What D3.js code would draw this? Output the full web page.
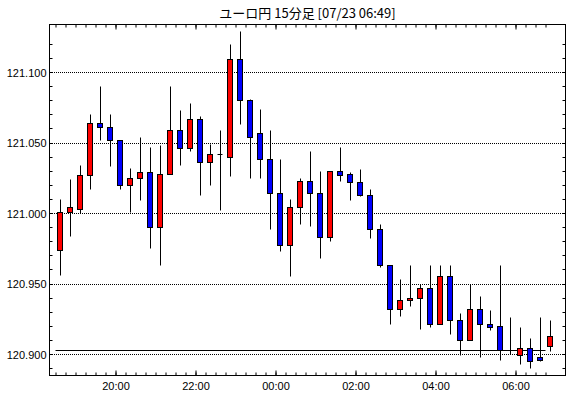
<!DOCTYPE html>
<html lang="ja">
<head>
<meta charset="utf-8">
<title>ユーロ円 15分足</title>
<script src="https://cdnjs.cloudflare.com/ajax/libs/d3/7.8.5/d3.min.js"></script>
<style>
  body { margin: 0; background: #fff; }
  svg text { fill: #000; }
</style>
</head>
<body>
<script>
// 15-minute candles, EUR/JPY
const times = [
  "07/22 18:30", "07/22 18:45", "07/22 19:00", "07/22 19:15", "07/22 19:30", "07/22 19:45",
  "07/22 20:00", "07/22 20:15", "07/22 20:30", "07/22 20:45", "07/22 21:00", "07/22 21:15",
  "07/22 21:30", "07/22 21:45", "07/22 22:00", "07/22 22:15", "07/22 22:30", "07/22 22:45",
  "07/22 23:00", "07/22 23:15", "07/22 23:30", "07/22 23:45",
  "07/23 00:00", "07/23 00:15", "07/23 00:30", "07/23 00:45", "07/23 01:00", "07/23 01:15",
  "07/23 01:30", "07/23 01:45", "07/23 02:00", "07/23 02:15", "07/23 02:30", "07/23 02:45",
  "07/23 03:00", "07/23 03:15", "07/23 03:30", "07/23 03:45", "07/23 04:00", "07/23 04:15",
  "07/23 04:30", "07/23 04:45", "07/23 05:00", "07/23 05:15", "07/23 05:30", "07/23 05:45",
  "07/23 06:00", "07/23 06:15", "07/23 06:30", "07/23 06:45"
];
const openPx = [
  120.974, 121.001, 121.003, 121.027, 121.064, 121.061, 121.052, 121.020, 121.025, 121.029,
  120.990, 121.028, 121.059, 121.046, 121.067, 121.036, 121.042, 121.040, 121.109, 121.080,
  121.057, 121.038, 121.014, 120.977, 121.004, 121.023, 121.014, 120.983, 121.030, 121.028,
  121.022, 121.013, 120.989, 120.963, 120.932, 120.938, 120.940, 120.947, 120.921, 120.955,
  120.924, 120.910, 120.932, 120.921, 120.920, 120.903, 120.899, 120.904, 120.898, 120.906
];
const highPx = [
  121.010, 121.024, 121.034, 121.070, 121.090, 121.070, 121.052, 121.032, 121.054, 121.047,
  121.048, 121.090, 121.073, 121.078, 121.069, 121.049, 121.059, 121.120, 121.129, 121.081,
  121.074, 121.059, 121.038, 121.010, 121.025, 121.044, 121.030, 121.030, 121.047, 121.029,
  121.031, 121.017, 120.992, 120.963, 120.953, 120.963, 120.950, 120.963, 120.963, 120.963,
  120.929, 120.950, 120.941, 120.931, 120.963, 120.926, 120.919, 120.911, 120.926, 120.924
];
const lowPx = [
  120.956, 120.984, 121.000, 121.017, 121.052, 121.033, 121.017, 121.001, 121.009, 120.975,
  120.963, 121.028, 121.034, 121.044, 121.013, 121.020, 121.002, 121.026, 121.063, 121.025,
  121.025, 120.989, 120.973, 120.955, 120.992, 120.991, 120.968, 120.980, 121.023, 121.009,
  121.012, 120.982, 120.962, 120.921, 120.927, 120.934, 120.918, 120.919, 120.921, 120.914,
  120.899, 120.910, 120.898, 120.917, 120.896, 120.900, 120.893, 120.890, 120.895, 120.902
];
const closePx = [
  121.001, 121.004, 121.027, 121.064, 121.061, 121.052, 121.020, 121.025, 121.029, 120.990,
  121.028, 121.059, 121.046, 121.067, 121.036, 121.042, 121.042, 121.109, 121.080, 121.054,
  121.038, 121.014, 120.977, 121.004, 121.023, 121.014, 120.983, 121.030, 121.027, 121.022,
  121.013, 120.989, 120.963, 120.932, 120.938, 120.940, 120.947, 120.921, 120.955, 120.924,
  120.910, 120.932, 120.921, 120.919, 120.903, 120.903, 120.904, 120.895, 120.896, 120.913
];
const refPrice = 120.903;
const xTickLabels = ["07/22 20:00", "07/22 22:00", "07/23 00:00", "07/23 02:00", "07/23 04:00", "07/23 06:00"];
const yTickLabels = [120.900, 120.950, 121.000, 121.050, 121.100];
const title = "ユーロ円 15分足 [07/23 06:49]";

const width = 570, height = 398;
const plotL = 49.5, plotR = 565.5, plotT = 24.5, plotB = 375.5;

const parse = d3.timeParse("%m/%d %H:%M");
const dates = times.map(parse);
const data = dates.map((d, i) => ({ t: d, o: openPx[i], h: highPx[i], l: lowPx[i], c: closePx[i] }));

const svg = d3.select("body").append("svg")
  .attr("width", width)
  .attr("height", height)
  .style("display", "block");

const x = d3.scaleTime()
  .domain([dates[0], d3.timeMinute.offset(dates[dates.length - 1], 15)])
  .range([55.5, 555.5]);
const y = d3.scaleLinear()
  .domain([120.9, 121.1])
  .range([354.5, 72.5]);

const minorY = d3.range(12089, 12113).map(v => v / 100);
const majorX = xTickLabels.map(parse);
const fmtY = d3.format(".3f");
const snap = v => Math.round(v - 0.5) + 0.5;

// title
svg.append("text")
  .attr("x", (plotL + plotR) / 2)
  .attr("y", 18)
  .attr("text-anchor", "middle")
  .style("font-family", "'Noto Sans CJK JP', sans-serif")
  .style("font-size", "13px")
  .text(title);

// dotted grid
svg.append("g").selectAll("line")
  .data(yTickLabels)
  .join("line")
  .attr("x1", plotL + 0.5).attr("x2", plotR - 0.5)
  .attr("y1", d => snap(y(d))).attr("y2", d => snap(y(d)))
  .attr("stroke", "#000")
  .attr("stroke-dasharray", "1,1")
  .attr("shape-rendering", "crispEdges");

// reference price line
svg.append("line")
  .attr("x1", x(dates[0])).attr("x2", x(dates[dates.length - 1]))
  .attr("y1", snap(y(refPrice))).attr("y2", snap(y(refPrice)))
  .attr("stroke", "#000");

// candles
const candles = svg.append("g").selectAll("g")
  .data(data)
  .join("g");

candles.append("line")
  .attr("x1", d => x(d.t) + 5).attr("x2", d => x(d.t) + 5)
  .attr("y1", d => snap(y(d.h))).attr("y2", d => snap(y(d.l)))
  .attr("stroke", "#000");

candles.filter(d => d.o !== d.c).append("rect")
  .attr("x", d => x(d.t) + 2)
  .attr("width", 5)
  .attr("y", d => snap(y(Math.max(d.o, d.c))))
  .attr("height", d => snap(y(Math.min(d.o, d.c))) - snap(y(Math.max(d.o, d.c))))
  .attr("fill", d => d.c > d.o ? "#ff0000" : "#0000ff")
  .attr("stroke", "#000");

candles.filter(d => d.o === d.c).append("line")
  .attr("x1", d => x(d.t) + 2).attr("x2", d => x(d.t) + 7)
  .attr("y1", d => snap(y(d.o))).attr("y2", d => snap(y(d.o)))
  .attr("stroke", "#000");

// axes: inward ticks on all four sides
const noLabel = () => "";
const tickStyle = g => {
  g.select(".domain").remove();
  g.selectAll("line").attr("stroke", "#000");
};
const labelStyle = g => g.selectAll("text")
  .style("font-family", "'Liberation Sans', Arial, sans-serif")
  .style("font-size", "11px");

svg.append("g").attr("transform", `translate(0,${plotB})`)
  .call(d3.axisBottom(x).tickValues(dates).tickSize(-3).tickFormat(noLabel))
  .call(tickStyle);
svg.append("g").attr("transform", `translate(0,${plotB})`)
  .call(d3.axisBottom(x).tickValues(majorX).tickSize(-5).tickPadding(7).tickFormat(d3.timeFormat("%H:%M")))
  .call(tickStyle)
  .call(labelStyle);

svg.append("g").attr("transform", `translate(0,${plotT})`)
  .call(d3.axisTop(x).tickValues(dates).tickSize(-3).tickFormat(noLabel))
  .call(tickStyle);
svg.append("g").attr("transform", `translate(0,${plotT})`)
  .call(d3.axisTop(x).tickValues(majorX).tickSize(-5).tickFormat(noLabel))
  .call(tickStyle);

svg.append("g").attr("transform", `translate(${plotL},0)`)
  .call(d3.axisLeft(y).tickValues(minorY).tickSize(-3).tickFormat(noLabel))
  .call(tickStyle)
  .call(g => g.selectAll(".tick").attr("transform", d => `translate(0,${snap(y(d))})`));
svg.append("g").attr("transform", `translate(${plotL},0)`)
  .call(d3.axisLeft(y).tickValues(yTickLabels).tickSize(0).tickPadding(3).tickFormat(fmtY))
  .call(tickStyle)
  .call(labelStyle);

svg.append("g").attr("transform", `translate(${plotR},0)`)
  .call(d3.axisRight(y).tickValues(minorY).tickSize(-3).tickFormat(noLabel))
  .call(tickStyle)
  .call(g => g.selectAll(".tick").attr("transform", d => `translate(0,${snap(y(d))})`));

// frame
svg.append("rect")
  .attr("x", plotL).attr("y", plotT)
  .attr("width", plotR - plotL).attr("height", plotB - plotT)
  .attr("fill", "none")
  .attr("stroke", "#000");
</script>
</body>
</html>
